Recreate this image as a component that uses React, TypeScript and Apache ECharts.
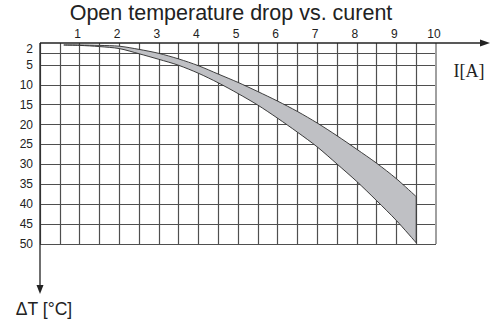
import React, { useEffect, useRef } from "react";
import * as echarts from "echarts";

// Current I [A]
const current = [0.6, 1, 1.5, 2, 2.5, 3, 3.5, 4, 4.5, 5, 5.5, 6, 6.5, 7, 7.5, 8, 8.5, 9, 9.5];
// Lower bound of the temperature drop (upper edge of the band on the inverted axis)
const dTMin = [0, 0, 0.1, 0.3, 1.1, 2.1, 3.5, 5.2, 7.3, 9.4, 11.7, 14.1, 16.7, 19.6, 22.8, 26.2, 29.7, 33.6, 38.1];
// Upper bound of the temperature drop
const dTMax = [0, 0.1, 0.4, 0.9, 2.2, 3.6, 5.1, 7.1, 9.5, 12.2, 15.1, 18.4, 21.9, 25.6, 29.9, 34.3, 39.1, 44.1, 49.7];

const xTickLabels = [1, 2, 3, 4, 5, 6, 7, 8, 9, 10];
const yTickValues = [2, 5, 10, 15, 20, 25, 30, 35, 40, 45, 50];

const GRID = "#4f4f4f";
const INK = "#222";

export default function App() {
  const ref = useRef<HTMLDivElement>(null);

  useEffect(() => {
    document.body.style.margin = "0";
    const chart = echarts.init(ref.current!, null, { renderer: "svg" });

    const bandData = current.map((c, i) => [c, dTMin[i], dTMax[i]]);

    const option: any = {
      animation: false,
      backgroundColor: "#fff",
      textStyle: { fontFamily: "Liberation Sans, Arial, sans-serif" },
      grid: { left: 40, top: 43, width: 396, height: 201, containLabel: false, outerBoundsMode: "none" },
      xAxis: {
        type: "value",
        position: "top",
        min: 0,
        max: 10,
        interval: 0.5,
        axisLine: { show: false },
        axisTick: { show: false },
        axisLabel: {
          fontSize: 12,
          color: INK,
          margin: 3,
          padding: [0, 4, 0, 0],
          formatter: (v: number) => (xTickLabels.indexOf(v) >= 0 ? String(v) : ""),
        },
        splitLine: { show: true, showMaxLine: false, lineStyle: { color: GRID, width: 1.2 } },
      },
      yAxis: {
        type: "value",
        inverse: true,
        min: -0.5,
        max: 50,
        axisLine: { show: false },
        axisTick: { show: false },
        splitLine: { show: false },
        axisLabel: {
          customValues: yTickValues,
          fontSize: 12,
          color: INK,
          margin: 7,
          formatter: (v: number) => (v === yTickValues[0] ? "{top|" + v + "}" : String(v)),
          rich: { top: { fontSize: 12, color: INK, padding: [0, 0, 7, 0] } },
        },
      },
      series: [
        {
          type: "line",
          data: [],
          z: 1,
          silent: true,
          markLine: {
            silent: true,
            symbol: ["none", "none"],
            label: { show: false },
            lineStyle: { color: GRID, width: 1.2, type: "solid" },
            data: [
              ...yTickValues.map((v) => ({ yAxis: v })),
              { xAxis: 10, lineStyle: { color: "#a0a0a0", width: 2, type: "solid" } },
            ],
          },
        },
        {
          type: "custom",
          z: 5,
          silent: true,
          clip: false,
          data: bandData,
          encode: { x: 0, y: [1, 2] },
          renderItem: (params: any, api: any) => {
            if (params.dataIndex !== 0) return null;
            const top: number[][] = [];
            const bottom: number[][] = [];
            for (let i = 0; i < current.length; i++) {
              top.push(api.coord([current[i], dTMin[i]]));
              bottom.push(api.coord([current[i], dTMax[i]]));
            }
            const n = current.length - 1;
            const stroke = { stroke: "#2a2a2a", lineWidth: 0.9, fill: null };
            return {
              type: "group",
              children: [
                {
                  type: "polygon",
                  shape: { points: top.concat(bottom.slice().reverse()) },
                  style: { fill: "#bfc0c4", stroke: null },
                },
                { type: "polyline", shape: { points: top, smooth: 0.3 }, style: stroke },
                { type: "polyline", shape: { points: bottom, smooth: 0.3 }, style: stroke },
                {
                  type: "line",
                  shape: { x1: top[n][0], y1: top[n][1], x2: bottom[n][0], y2: bottom[n][1] },
                  style: stroke,
                },
              ],
            };
          },
        },
      ],
      graphic: [
        { type: "line", z: 10, shape: { x1: 40, y1: 43, x2: 483, y2: 43 }, style: { stroke: INK, lineWidth: 1.3 } },
        { type: "polygon", z: 10, shape: { points: [[480, 39.5], [490, 43], [480, 46.5]] }, style: { fill: INK } },
        { type: "line", z: 10, shape: { x1: 40, y1: 43, x2: 40, y2: 287 }, style: { stroke: INK, lineWidth: 1.3 } },
        { type: "polygon", z: 10, shape: { points: [[36.5, 285], [43.5, 285], [40, 294]] }, style: { fill: INK } },
        {
          type: "text",
          x: 231,
          y: 13,
          style: {
            text: "Open temperature drop vs. curent",
            align: "center",
            verticalAlign: "middle",
            fontSize: 21.5,
            fontFamily: "Liberation Sans, Arial, sans-serif",
            fill: INK,
          },
        },
        {
          type: "text",
          x: 469,
          y: 71,
          style: {
            text: "I[A]",
            align: "center",
            verticalAlign: "middle",
            fontSize: 18,
            fontFamily: "Liberation Serif, Times New Roman, serif",
            fill: INK,
          },
        },
        {
          type: "text",
          x: 44,
          y: 309,
          style: {
            text: "ΔT [°C]",
            align: "center",
            verticalAlign: "middle",
            fontSize: 17.5,
            fontFamily: "Liberation Sans, Arial, sans-serif",
            fill: INK,
          },
        },
      ],
    };

    chart.setOption(option);
    return () => chart.dispose();
  }, []);

  return (
    <div
      ref={ref}
      style={{ position: "fixed", left: 0, top: 0, width: 490, height: 322, background: "#fff" }}
    />
  );
}
